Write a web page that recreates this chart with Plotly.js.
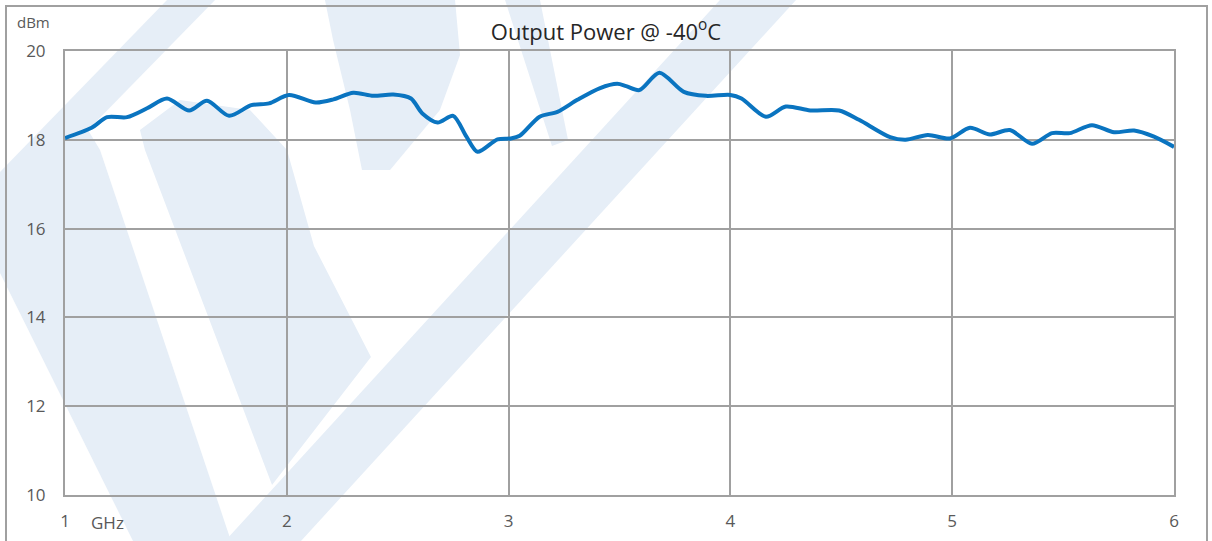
<!DOCTYPE html>
<html>
<head>
<meta charset="utf-8">
<script src="https://cdn.plot.ly/plotly-3.0.1.min.js"></script>
<style>
  html, body { margin: 0; padding: 0; background: #ffffff; }
  #chart { width: 1212px; height: 541px; }
</style>
</head>
<body>
<div id="chart"></div>
<script>
// Frequency (GHz) and output power (dBm)
const freqGHz = [1.00, 1.12, 1.19, 1.28, 1.37, 1.46, 1.56, 1.64, 1.74, 1.84, 1.92, 2.01,
                 2.13, 2.21, 2.30, 2.39, 2.48, 2.56, 2.61, 2.68, 2.75, 2.81, 2.86, 2.95,
                 3.01, 3.05, 3.14, 3.22, 3.31, 3.41, 3.49, 3.53, 3.59, 3.68, 3.79, 3.89,
                 4.00, 4.05, 4.16, 4.25, 4.36, 4.49, 4.58, 4.72, 4.79, 4.89, 4.99, 5.08,
                 5.17, 5.26, 5.36, 5.45, 5.53, 5.63, 5.73, 5.82, 5.91, 6.00];
const powerDBm = [18.04, 18.27, 18.51, 18.51, 18.71, 18.93, 18.66, 18.88, 18.54, 18.78, 18.82, 19.01,
                  18.84, 18.91, 19.06, 18.99, 19.02, 18.93, 18.60, 18.39, 18.54, 18.07, 17.73, 18.01,
                  18.03, 18.09, 18.52, 18.63, 18.90, 19.16, 19.26, 19.21, 19.12, 19.51, 19.08, 18.99,
                  19.01, 18.93, 18.52, 18.75, 18.66, 18.66, 18.45, 18.06, 18.00, 18.11, 18.03, 18.27,
                  18.12, 18.22, 17.91, 18.15, 18.15, 18.33, 18.17, 18.21, 18.07, 17.84];
const xTicks = [1, 2, 3, 4, 5, 6];
const yTicks = [10, 12, 14, 16, 18, 20];
const titleText = 'Output Power @ -40<sup>o</sup>C';
const yUnit = 'dBm';
const xUnit = 'GHz';

// geometry helpers (page pixels -> paper coordinates) for decoration only
const W = 1212, H = 541, ML = 65, MR = 38, MT = 51, MB = 46;
const PW = W - ML - MR, PH = H - MT - MB;
function px(x) { return (x - ML) / PW; }
function py(y) { return (H - MB - y) / PH; }
function poly(pts) {
  return 'M ' + pts.map(p => px(p[0]).toFixed(4) + ' ' + py(p[1]).toFixed(4)).join(' L ') + ' Z';
}
const wmColor = '#e6eef7';
const wmPolys = [
  [[167,0],[215,0],[0,220],[0,172]],
  [[0,273],[0,200],[40,150],[88,130],[100,150],[231,541],[133,541]],
  [[140,130],[180,100],[250,110],[287,150],[314,246],[371,357],[272,485],[145,150]],
  [[325,0],[455,0],[460,55],[440,110],[390,170],[362,170],[350,110],[333,40]],
  [[505,0],[540,0],[568,140],[552,146]],
  [[720,0],[796,0],[301,541],[225,541]]
];
const shapes = wmPolys.map(p => ({
  type: 'path', xref: 'paper', yref: 'paper', path: poly(p),
  fillcolor: wmColor, line: {width: 0}, layer: 'below'
}));
shapes.push({
  type: 'rect', xref: 'paper', yref: 'paper',
  x0: px(6), x1: px(1207), y0: py(560), y1: py(6),
  line: {color: '#a0a0a0', width: 2}, fillcolor: 'rgba(0,0,0,0)', layer: 'below'
});

const trace = {
  x: freqGHz, y: powerDBm, type: 'scatter', mode: 'lines',
  line: {color: '#0a74c0', width: 4, shape: 'spline', smoothing: 0.8},
  hoverinfo: 'x+y'
};

const layout = {
  width: W, height: H,
  margin: {l: ML, r: MR, t: MT, b: MB, pad: 0},
  paper_bgcolor: '#ffffff',
  plot_bgcolor: 'rgba(0,0,0,0)',
  showlegend: false,
  font: {family: '"Open Sans", "Liberation Sans", sans-serif', color: '#595959'},
  title: {
    text: titleText, x: 0.5, xref: 'container', xanchor: 'center',
    y: 1 - 32 / H, yref: 'container', yanchor: 'middle',
    font: {size: 22, color: '#262626', family: '"Open Sans", sans-serif'}
  },
  xaxis: {
    range: [1, 6], tickvals: xTicks, ticktext: xTicks.map(String),
    showgrid: true, gridcolor: '#a0a0a0', gridwidth: 2,
    showline: true, linecolor: '#a0a0a0', linewidth: 2, mirror: true,
    zeroline: false, ticks: '', ticklabelstandoff: 10,
    tickfont: {size: 17, color: '#595959'}
  },
  yaxis: {
    range: [10, 20], tickvals: yTicks, ticktext: yTicks.map(String),
    showgrid: true, gridcolor: '#a0a0a0', gridwidth: 2,
    showline: true, linecolor: '#a0a0a0', linewidth: 2, mirror: true,
    zeroline: false, ticks: '', ticklabelstandoff: 14,
    tickfont: {size: 17, color: '#595959'}
  },
  annotations: [
    {text: yUnit, xref: 'paper', yref: 'paper', x: px(15), y: py(22),
     xanchor: 'left', yanchor: 'middle', showarrow: false,
     font: {size: 15, color: '#595959'}},
    {text: xUnit, xref: 'paper', yref: 'paper', x: px(89), y: py(522),
     xanchor: 'left', yanchor: 'middle', showarrow: false,
     font: {size: 17, color: '#595959'}}
  ],
  shapes: shapes
};

Plotly.newPlot('chart', [trace], layout, {displayModeBar: false, staticPlot: true});
</script>
</body>
</html>
